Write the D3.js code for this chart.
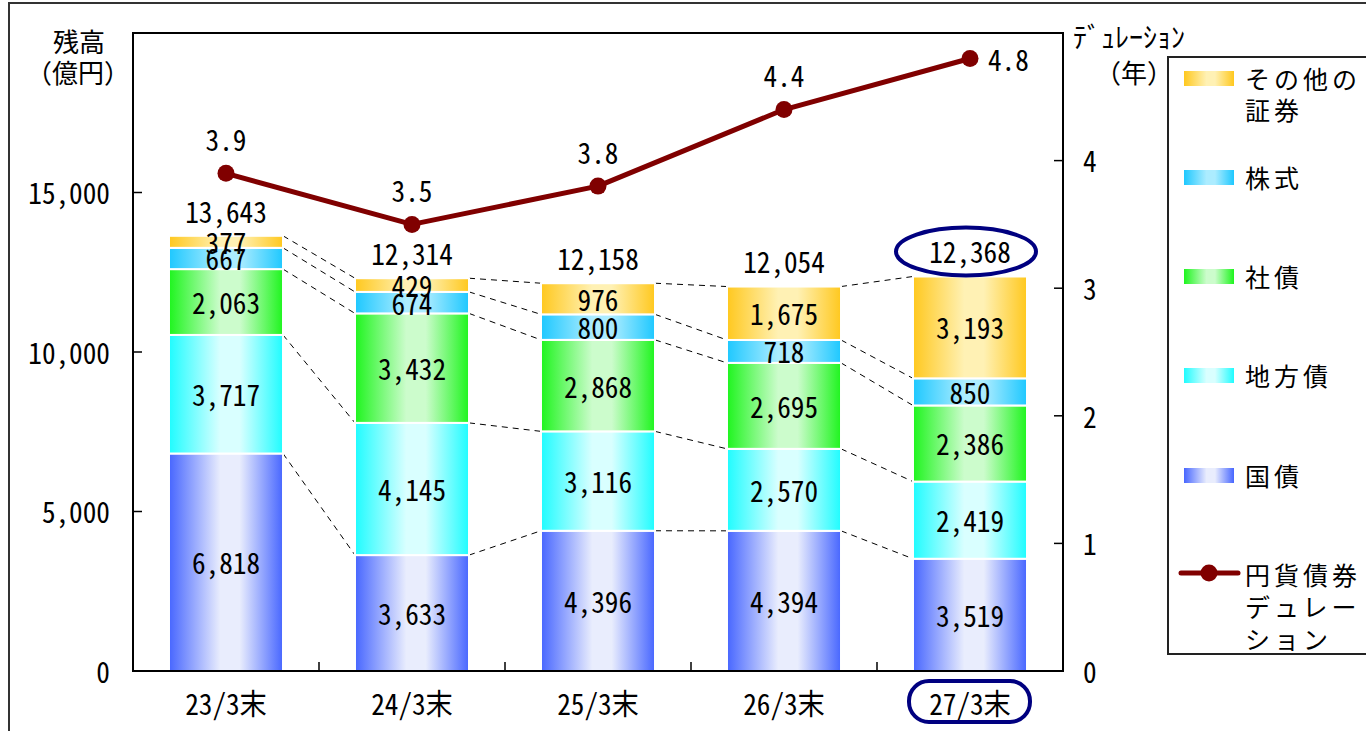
<!DOCTYPE html>
<html lang="ja">
<head>
<meta charset="utf-8">
<script src="https://cdn.jsdelivr.net/npm/d3@7/dist/d3.min.js"></script>
<style>
  html, body { margin: 0; padding: 0; background: #fff; }
  svg { display: block; }
  .num { font-feature-settings: "hwid" 1; }
</style>
</head>
<body>
<svg id="chart" width="1366" height="731"></svg>
<script>
// ---- data -------------------------------------------------------------
const categories = ["23/3末", "24/3末", "25/3末", "26/3末", "27/3末"];
const seriesNames = ["国債", "地方債", "社債", "株式", "その他の証券"];
const kokusai   = [6818, 3633, 4396, 4394, 3519];   // 国債
const chihousai = [3717, 4145, 3116, 2570, 2419];   // 地方債
const shasai    = [2063, 3432, 2868, 2695, 2386];   // 社債
const kabushiki = [667, 674, 800, 718, 850];        // 株式
const sonota    = [377, 429, 976, 1675, 3193];      // その他の証券
const totals    = [13643, 12314, 12158, 12054, 12368];
const duration  = [3.9, 3.5, 3.8, 4.4, 4.8];        // 円貨債券デュレーション（年）
const leftTicks  = [0, 5000, 10000, 15000];
const rightTicks = [0, 1, 2, 3, 4];

const seriesValues = [kokusai, chihousai, shasai, kabushiki, sonota];
const seriesColors = [
  { edge: "#4766ff", light: "#e9edfd" },
  { edge: "#1ffcff", light: "#d9ffff" },
  { edge: "#1ef51e", light: "#ccfccc" },
  { edge: "#1ec8ff", light: "#acecff" },
  { edge: "#ffc81e", light: "#fff1b4" }
];

// ---- layout -----------------------------------------------------------
const svg = d3.select("#chart");
const plot = { left: 133, right: 1063, top: 33, bottom: 671 };
const jpFont = "'Noto Sans CJK JP', sans-serif";
const numSize = 29, numScale = 0.94;
const lineColor = "#800000";
const markColor = "#000080";

const x = d3.scaleBand().domain(categories)
  .range([plot.left, plot.right]).paddingInner(0.387).paddingOuter(0.1935);
const y = d3.scaleLinear().domain([0, 20000]).range([plot.bottom, plot.top]);
const y2 = d3.scaleLinear().domain([0, 5]).range([plot.bottom, plot.top]);

// half-width numeric text (digits and comma share one cell width)
function numText(g, str, px, py, anchor) {
  return g.append("g").attr("transform", `translate(${px},${py}) scale(${numScale},1)`)
    .append("text")
    .attr("class", "num")
    .attr("text-anchor", anchor || "middle")
    .attr("dominant-baseline", "central")
    .style("font-family", jpFont).style("font-size", numSize + "px")
    .attr("fill", "#000")
    .text(str);
}

// gradients
const defs = svg.append("defs");
seriesColors.forEach((c, i) => {
  const gr = defs.append("linearGradient").attr("id", "grad" + i)
    .attr("x1", "0").attr("x2", "1").attr("y1", "0").attr("y2", "0");
  gr.append("stop").attr("offset", "0").attr("stop-color", c.edge);
  gr.append("stop").attr("offset", "0.45").attr("stop-color", c.light);
  gr.append("stop").attr("offset", "0.62").attr("stop-color", c.light);
  gr.append("stop").attr("offset", "1").attr("stop-color", c.edge);
});

// outer frame
svg.append("path").attr("d", "M9,731 V3 H1366")
  .attr("fill", "none").attr("stroke", "#333").attr("stroke-width", 2);

// ---- stacked bars -----------------------------------------------------
const rows = categories.map((c, i) => {
  const r = { cat: c };
  seriesNames.forEach((s, k) => r[s] = seriesValues[k][i]);
  return r;
});
const stacked = d3.stack().keys(seriesNames)(rows);

// dashed connectors between neighbouring bars
const connG = svg.append("g");
stacked.forEach(layer => {
  for (let i = 0; i < categories.length - 1; i++) {
    connG.append("line")
      .attr("x1", x(categories[i]) + x.bandwidth()).attr("y1", y(layer[i][1]))
      .attr("x2", x(categories[i + 1])).attr("y2", y(layer[i + 1][1]))
      .attr("stroke", "#000").attr("stroke-width", 1).attr("stroke-dasharray", "6,5");
  }
});

const barG = svg.append("g");
stacked.forEach((layer, k) => {
  barG.selectAll(null).data(layer).enter().append("rect")
    .attr("x", d => x(d.data.cat))
    .attr("y", d => y(d[1]))
    .attr("width", x.bandwidth())
    .attr("height", d => y(d[0]) - y(d[1]))
    .attr("fill", `url(#grad${k})`)
    .attr("stroke", "#fff").attr("stroke-width", 2);
});

// segment labels
const fmt = d3.format(",");
const labG = svg.append("g");
stacked.forEach(layer => {
  layer.forEach(d => {
    numText(labG, fmt(d[1] - d[0]),
      x(d.data.cat) + x.bandwidth() / 2, (y(d[0]) + y(d[1])) / 2 - 1);
  });
});

// totals
categories.forEach((c, i) => {
  const top = stacked[stacked.length - 1][i][1];
  numText(labG, fmt(totals[i]), x(c) + x.bandwidth() / 2, y(top) - 26);
});

// ---- axes ---------------------------------------------------------------
const axG = svg.append("g");
axG.append("rect")
  .attr("x", plot.left).attr("y", plot.top)
  .attr("width", plot.right - plot.left).attr("height", plot.bottom - plot.top)
  .attr("fill", "none").attr("stroke", "#000").attr("stroke-width", 2);

leftTicks.forEach(t => {
  axG.append("line").attr("x1", plot.left).attr("x2", plot.left + 9)
    .attr("y1", y(t)).attr("y2", y(t)).attr("stroke", "#000").attr("stroke-width", 1.5);
  numText(axG, fmt(t), 110, y(t) - 1, "end");
});
rightTicks.forEach(t => {
  axG.append("line").attr("x1", plot.right - 9).attr("x2", plot.right)
    .attr("y1", y2(t)).attr("y2", y2(t)).attr("stroke", "#000").attr("stroke-width", 1.5);
  numText(axG, String(t), 1083, y2(t) - 1, "start");
});
// category boundary ticks
for (let i = 1; i < categories.length; i++) {
  const bx = plot.left + x.step() * i;
  axG.append("line").attr("x1", bx).attr("x2", bx)
    .attr("y1", plot.bottom - 9).attr("y2", plot.bottom)
    .attr("stroke", "#000").attr("stroke-width", 1.5);
}
categories.forEach(c => {
  numText(axG, c, x(c) + x.bandwidth() / 2, 702);
});

// axis titles
function jpText(g, str, px, py, size, anchor, spacing) {
  return g.append("text").attr("x", px).attr("y", py)
    .attr("text-anchor", anchor || "middle")
    .attr("dominant-baseline", "central")
    .style("font-family", jpFont).style("font-size", size + "px")
    .style("letter-spacing", (spacing || 0) + "px")
    .attr("fill", "#000").text(str);
}
jpText(svg, "残高", 79, 40, 26);
jpText(svg, "（億円）", 78, 71, 26);
jpText(svg, "ﾃﾞｭﾚｰｼｮﾝ", 1073, 36, 28, "start");
jpText(svg, "（年）", 1134, 71, 26);

// ---- duration line ----------------------------------------------------
const lineG = svg.append("g");
const cx = c => x(c) + x.bandwidth() / 2;
lineG.append("path")
  .datum(categories.map((c, i) => [cx(c), y2(duration[i])]))
  .attr("d", d3.line())
  .attr("fill", "none").attr("stroke", lineColor).attr("stroke-width", 5)
  .attr("stroke-linejoin", "round");
categories.forEach((c, i) => {
  lineG.append("circle").attr("cx", cx(c)).attr("cy", y2(duration[i])).attr("r", 8.5)
    .attr("fill", lineColor);
  const last = i === categories.length - 1;
  numText(lineG, duration[i].toFixed(1),
    last ? cx(c) + 18 : cx(c), last ? y2(duration[i]) : y2(duration[i]) - 35,
    last ? "start" : "middle");
});

// ---- highlight marks --------------------------------------------------
const lastCat = categories[categories.length - 1];
const lastTop = stacked[stacked.length - 1][categories.length - 1][1];
svg.append("ellipse")
  .attr("cx", cx(lastCat) - 4).attr("cy", y(lastTop) - 25)
  .attr("rx", 70).attr("ry", 24)
  .attr("fill", "none").attr("stroke", markColor).attr("stroke-width", 4);
svg.append("rect")
  .attr("x", cx(lastCat) - 61).attr("y", 681).attr("width", 121).attr("height", 41)
  .attr("rx", 20).attr("ry", 20)
  .attr("fill", "none").attr("stroke", markColor).attr("stroke-width", 4);

// ---- legend ---------------------------------------------------------------
const lg = svg.append("g");
lg.append("rect").attr("x", 1168).attr("y", 57).attr("width", 260).attr("height", 597)
  .attr("fill", "#fff").attr("stroke", "#222").attr("stroke-width", 2);

const legendItems = [
  { k: 4, lines: ["その他の", "証券"], y: 78 },
  { k: 3, lines: ["株式"], y: 177 },
  { k: 2, lines: ["社債"], y: 276 },
  { k: 1, lines: ["地方債"], y: 375 },
  { k: 0, lines: ["国債"], y: 475 }
];
legendItems.forEach(it => {
  lg.append("rect").attr("x", 1184).attr("y", it.y - 7).attr("width", 50).attr("height", 15)
    .attr("fill", `url(#grad${it.k})`);
  it.lines.forEach((t, j) => jpText(lg, t, 1245, it.y + j * 31, 25, "start", 4));
});
lg.append("line").attr("x1", 1181).attr("x2", 1238).attr("y1", 573).attr("y2", 573)
  .attr("stroke", lineColor).attr("stroke-width", 5).attr("stroke-linecap", "round");
lg.append("circle").attr("cx", 1209).attr("cy", 573).attr("r", 8.5).attr("fill", lineColor);
["円貨債券", "デュレー", "ション"].forEach((t, j) =>
  jpText(lg, t, 1245, 574 + j * 32, 25, "start", 4));
</script>
</body>
</html>
